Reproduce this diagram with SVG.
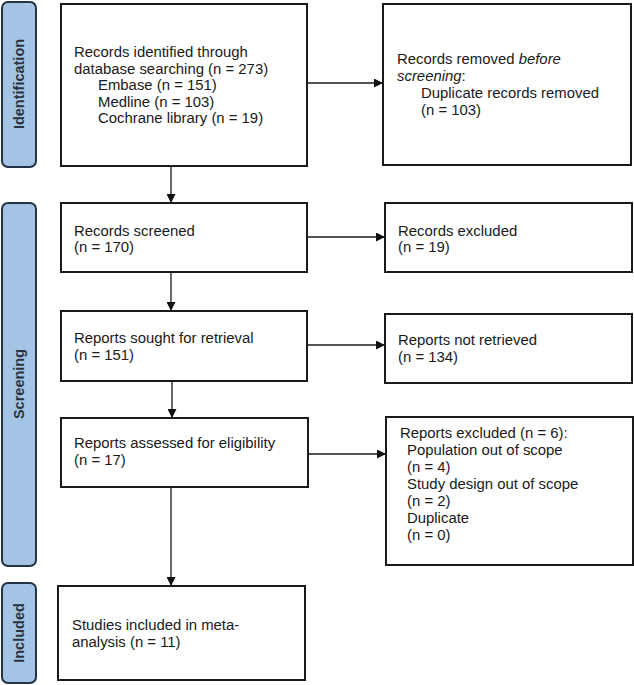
<svg xmlns="http://www.w3.org/2000/svg" width="634" height="685" viewBox="0 0 634 685">
<style>
.bg{fill:#ffffff}
.box{fill:#ffffff;stroke:#1a1a1a;stroke-width:2}
.band{fill:#a4c4e6;stroke:#233244;stroke-width:2}
.t{font-family:"Liberation Sans",Arial,sans-serif;font-size:14.9px;fill:#1a1a1a}
.lab{font-family:"Liberation Sans",Arial,sans-serif;font-size:14.5px;font-weight:bold;fill:#2a3240;text-anchor:middle}
.c{stroke:#1a1a1a;stroke-width:1.3;fill:none;marker-end:url(#ah)}
</style>
<defs>
<marker id="ah" viewBox="0 0 10 10" refX="10" refY="5" markerWidth="9" markerHeight="9" markerUnits="userSpaceOnUse" orient="auto">
<path d="M0,0 L10,5 L0,10 z" fill="#111"/>
</marker>
</defs>
<rect class="bg" x="0" y="0" width="634" height="685"/>

<g id="band-identification">
<rect class="band" x="2" y="2" width="34" height="165" rx="6"/>
<text class="lab" transform="translate(24,84) rotate(-90)">Identification</text>
</g>
<g id="band-screening">
<rect class="band" x="2" y="203" width="34" height="363" rx="6"/>
<text class="lab" transform="translate(24,384) rotate(-90)">Screening</text>
</g>
<g id="band-included">
<rect class="band" x="2" y="583" width="34" height="100" rx="6"/>
<text class="lab" transform="translate(24,633) rotate(-90)">Included</text>
</g>

<g id="connectors">
<line class="c" x1="307" y1="83" x2="383" y2="83"/>
<line class="c" x1="171" y1="166" x2="171" y2="203"/>
<line class="c" x1="307" y1="237" x2="385" y2="237"/>
<line class="c" x1="171" y1="272" x2="171" y2="311"/>
<line class="c" x1="307" y1="345" x2="385" y2="345"/>
<line class="c" x1="172" y1="381" x2="172" y2="418"/>
<line class="c" x1="308" y1="454" x2="386" y2="454"/>
<line class="c" x1="171" y1="487" x2="171" y2="586"/>
</g>

<g id="records-identified">
<rect class="box" x="61" y="4" width="246" height="162"/>
<text class="t" x="74" y="57">Records identified through</text>
<text class="t" x="74" y="74">database searching (n = 273)</text>
<text class="t" x="98" y="90">Embase (n = 151)</text>
<text class="t" x="98" y="107">Medline (n = 103)</text>
<text class="t" x="98" y="123">Cochrane library (n = 19)</text>
</g>

<g id="records-removed">
<rect class="box" x="383" y="4" width="248" height="161"/>
<text class="t" x="397" y="64">Records removed <tspan font-style="italic">before</tspan></text>
<text class="t" x="397" y="81"><tspan font-style="italic">screening</tspan>:</text>
<text class="t" x="421" y="98">Duplicate records removed</text>
<text class="t" x="421" y="115">(n = 103)</text>
</g>

<g id="records-screened">
<rect class="box" x="61" y="203" width="246" height="69"/>
<text class="t" x="74" y="236">Records screened</text>
<text class="t" x="74" y="252">(n = 170)</text>
</g>

<g id="records-excluded">
<rect class="box" x="385" y="203" width="247" height="69"/>
<text class="t" x="398" y="236">Records excluded</text>
<text class="t" x="398" y="252">(n = 19)</text>
</g>

<g id="reports-sought">
<rect class="box" x="61" y="311" width="246" height="70"/>
<text class="t" x="74" y="343">Reports sought for retrieval</text>
<text class="t" x="74" y="360">(n = 151)</text>
</g>

<g id="reports-not-retrieved">
<rect class="box" x="385" y="314" width="247" height="69"/>
<text class="t" x="398" y="345">Reports not retrieved</text>
<text class="t" x="398" y="362">(n = 134)</text>
</g>

<g id="reports-assessed">
<rect class="box" x="61" y="418" width="247" height="69"/>
<text class="t" x="74" y="448">Reports assessed for eligibility</text>
<text class="t" x="74" y="465">(n = 17)</text>
</g>

<g id="reports-excluded">
<rect class="box" x="386" y="417" width="247" height="148"/>
<text class="t" x="400" y="438">Reports excluded (n = 6):</text>
<text class="t" x="407" y="455">Population out of scope</text>
<text class="t" x="407" y="472">(n = 4)</text>
<text class="t" x="407" y="489">Study design out of scope</text>
<text class="t" x="407" y="506">(n = 2)</text>
<text class="t" x="407" y="523">Duplicate</text>
<text class="t" x="407" y="540">(n = 0)</text>
</g>

<g id="studies-included">
<rect class="box" x="58" y="586" width="247" height="94"/>
<text class="t" x="72" y="630">Studies included in meta-</text>
<text class="t" x="72" y="647">analysis (n = 11)</text>
</g>
</svg>
